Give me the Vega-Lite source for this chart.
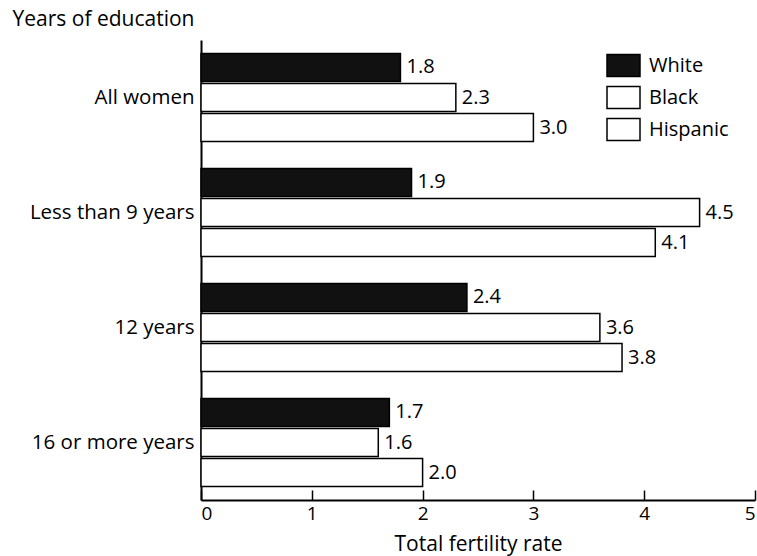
{
  "$schema": "https://vega.github.io/schema/vega-lite/v6.json",
  "autosize": "none",
  "width": 554,
  "height": 460,
  "padding": {"left": 201, "top": 40, "right": 2, "bottom": 56},
  "background": "white",
  "config": {
    "font": "Open Sans",
    "view": {"stroke": null},
    "axis": {"labelFont": "Open Sans", "titleFont": "Open Sans", "labelColor": "black", "titleColor": "black", "titleFontWeight": "normal"}
  },
  "data": {
    "values": [
      {"edu": "All women", "race": "White", "tfr": 1.8},
      {"edu": "All women", "race": "Black", "tfr": 2.3},
      {"edu": "All women", "race": "Hispanic", "tfr": 3.0},
      {"edu": "Less than 9 years", "race": "White", "tfr": 1.9},
      {"edu": "Less than 9 years", "race": "Black", "tfr": 4.5},
      {"edu": "Less than 9 years", "race": "Hispanic", "tfr": 4.1},
      {"edu": "12 years", "race": "White", "tfr": 2.4},
      {"edu": "12 years", "race": "Black", "tfr": 3.6},
      {"edu": "12 years", "race": "Hispanic", "tfr": 3.8},
      {"edu": "16 or more years", "race": "White", "tfr": 1.7},
      {"edu": "16 or more years", "race": "Black", "tfr": 1.6},
      {"edu": "16 or more years", "race": "Hispanic", "tfr": 2.0}
    ]
  },
  "encoding": {
    "y": {
      "field": "edu", "type": "nominal",
      "sort": ["All women", "Less than 9 years", "12 years", "16 or more years"],
      "scale": {"paddingInner": 0, "paddingOuter": 0},
      "axis": {
        "title": "Years of education",
        "titleAngle": 0, "titleAlign": "left", "titleBaseline": "alphabetic",
        "titleX": -189, "titleY": -15, "titleFontSize": 21,
        "labelFontSize": 20.5, "labelPadding": 7,
        "ticks": false, "domainColor": "black", "domainWidth": 2
      }
    },
    "yOffset": {
      "field": "race", "type": "nominal",
      "sort": ["White", "Black", "Hispanic"],
      "scale": {"paddingInner": 0.067, "paddingOuter": 0.45}
    },
    "x": {
      "field": "tfr", "type": "quantitative",
      "scale": {"domain": [0, 5], "nice": false},
      "axis": {
        "title": "Total fertility rate",
        "values": [0, 1, 2, 3, 4, 5],
        "format": "d",
        "grid": false,
        "tickSize": -10, "tickColor": "black", "tickWidth": 1.5,
        "domainColor": "black", "domainWidth": 2,
        "labelFontSize": 19, "labelPadding": 14,
        "titleFontSize": 21, "titleBaseline": "middle", "titleY": 44
      }
    }
  },
  "layer": [
    {
      "mark": {"type": "bar", "stroke": "black", "strokeWidth": 1.5},
      "encoding": {
        "fill": {
          "field": "race", "type": "nominal",
          "scale": {"domain": ["White", "Black", "Hispanic"], "range": ["#111111", "#ffffff", "#ffffff"]},
          "legend": {
            "title": null, "orient": "none", "legendX": 405, "legendY": 8,
            "padding": 0, "rowPadding": 0, "labelFontSize": 20, "labelFont": "Open Sans", "labelColor": "black",
            "symbolType": "M-1,-0.67H1V0.67H-1Z", "symbolSize": 1089,
            "symbolStrokeColor": "black", "symbolStrokeWidth": 1.5, "labelOffset": 8
          }
        }
      }
    },
    {
      "mark": {"type": "text", "align": "left", "baseline": "middle", "dx": 6, "fontSize": 20, "color": "black"},
      "encoding": {"text": {"field": "tfr", "type": "quantitative", "format": ".1f"}}
    }
  ]
}
